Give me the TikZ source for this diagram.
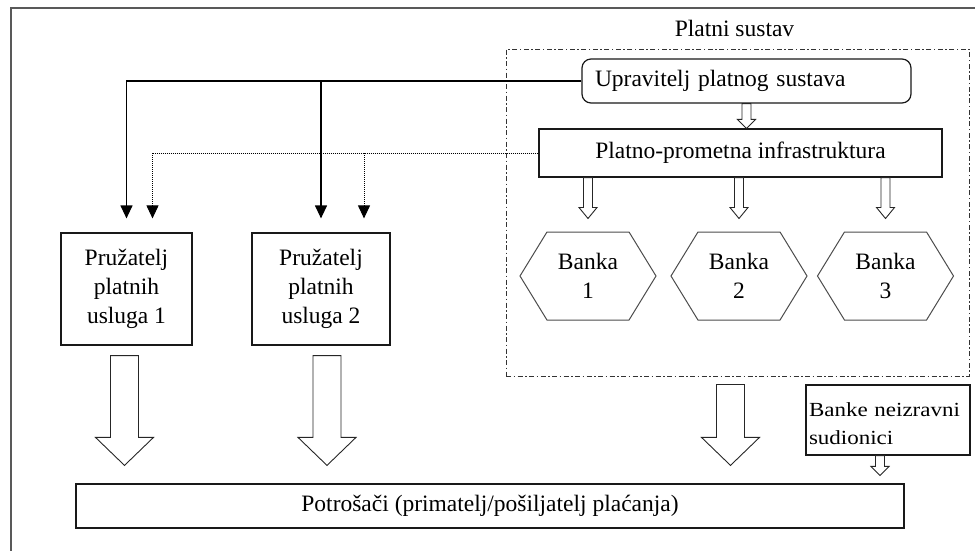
\documentclass[tikz,border=0pt]{standalone}
\usepackage{fontspec}
\setmainfont{Liberation Serif}
\newfontfamily\nezfont[FakeStretch=1.15]{Liberation Serif}
\usetikzlibrary{arrows.meta,shapes.symbols,calc}
\tikzset{
    txt/.style={font=\fontsize{23.5}{29}\selectfont},
    plainbox/.style={draw=black!90,line width=1.2pt,txt,align=center,inner sep=0pt},
    bankhex/.style={draw=black!70,line width=1pt,txt,align=center,signal,signal to=west and east,signal pointer angle=117,minimum width=136,minimum height=88,inner sep=0pt},
    sysframe/.style={draw=black!80,line width=1pt,dash pattern=on 5pt off 2.5pt on 1.5pt off 2.5pt},
    ctrl/.style={line width=1.2pt,-{Triangle[width=12pt,length=13pt]}},
    info/.style={line width=1pt,dash pattern=on 1pt off 1pt,-{Triangle[width=12pt,length=13pt]}},
    hollowarrow/.style={draw=black!85,line width=0.9pt,fill=white,line join=miter},
    frame/.style={draw=black!65,line width=2pt}
}
\newcommand{\blockarrow}[5]{%
    \draw[hollowarrow] let \p1=#1, \p2=#2 in
        (\x1-#3,\y1) -- (\x1-#3,\y2+#5) -- (\x1-#4,\y2+#5) -- (\x1,\y2)
        -- (\x1+#4,\y2+#5) -- (\x1+#3,\y2+#5) -- (\x1+#3,\y1) -- cycle;}
\begin{document}
\begin{tikzpicture}[x=1pt,y=-1pt]
    \useasboundingbox (0,0) rectangle (975,550);
    \draw[frame] (11,560) -- (11,8) -- (990,8);
    \node[sysframe,minimum width=463,minimum height=327] (sys) at (737.5,212.5) {};
    \node[txt,anchor=base] (systitle) at ([xshift=-3pt,yshift=12pt]sys.north) {Platni sustav};
    \node[plainbox,rounded corners=9pt,text width=303,align=left,inner xsep=13pt,minimum height=44] (upr) at (746.5,81) {Upravitelj platnog sustava};
    \node[plainbox,minimum width=403,minimum height=48] (infra) at (740.5,153) {Platno-prometna infrastruktura};
    \node[bankhex] (bank1) at (588,276) {Banka\\1};
    \node[bankhex] (bank2) at (739,276) {Banka\\2};
    \node[bankhex] (bank3) at (885.5,276) {Banka\\3};
    \node[plainbox,minimum width=131,minimum height=112] (p1) at (126.5,289) {Pružatelj\\platnih\\usluga 1};
    \node[plainbox,minimum width=138,minimum height=112] (p2) at (321,289) {Pružatelj\\platnih\\usluga 2};
    \node[plainbox,minimum width=828,minimum height=44] (cons) at (490,506) {Potrošači (primatelj/pošiljatelj plaćanja)};
    \node[plainbox,font=\nezfont\fontsize{20}{28}\selectfont,text width=158,align=left,inner xsep=3pt,text depth=21pt,minimum height=70] (nez) at (888,420) {Banke neizravni\\sudionici};
    \coordinate (s1) at ([yshift=14pt]p1.north);
    \coordinate (s2) at ([yshift=14pt]p2.north);
    \coordinate (d1) at ([xshift=26pt,yshift=14pt]p1.north);
    \coordinate (d2) at ([xshift=43pt,yshift=14pt]p2.north);
    \draw[ctrl] (upr.west) -| (s1);
    \draw[ctrl] (upr.west -| s2) -- (s2);
    \draw[info] (infra.west) -| (d1);
    \draw[info] (infra.west -| d2) -- (d2);
    \blockarrow{(upr.south)}{(infra.north)}{4.5pt}{9pt}{9pt}
    \blockarrow{(infra.south -| bank1.north)}{([yshift=13pt]bank1.north)}{4.5pt}{9pt}{11pt}
    \blockarrow{(infra.south -| bank2.north)}{([yshift=13pt]bank2.north)}{4.5pt}{9pt}{11pt}
    \blockarrow{(infra.south -| bank3.north)}{([yshift=13pt]bank3.north)}{4.5pt}{9pt}{11pt}
    \blockarrow{([xshift=-2pt,yshift=-10pt]p1.south)}{([yshift=18pt]cons.north)}{14pt}{29pt}{28pt}
    \blockarrow{([xshift=6pt,yshift=-10pt]p2.south)}{([yshift=18pt]cons.north)}{14pt}{29pt}{28pt}
    \blockarrow{([xshift=-7pt,yshift=-8pt]sys.south)}{([yshift=18pt]cons.north)}{14pt}{29pt}{28pt}
    \blockarrow{([xshift=-8pt]nez.south)}{([yshift=8pt]cons.north)}{4.5pt}{9pt}{9pt}
\end{tikzpicture}
\end{document}
